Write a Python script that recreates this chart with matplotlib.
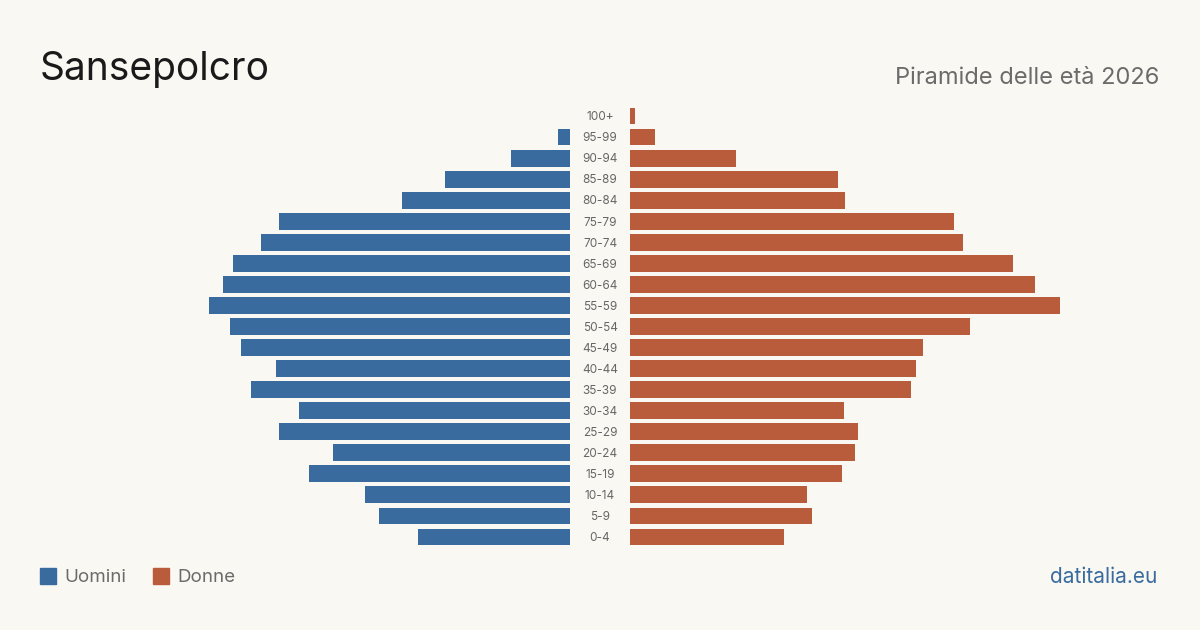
import matplotlib.pyplot as plt
from matplotlib.patches import Rectangle
from matplotlib.transforms import blended_transform_factory

ages = ["0-4", "5-9", "10-14", "15-19", "20-24", "25-29", "30-34", "35-39",
        "40-44", "45-49", "50-54", "55-59", "60-64", "65-69", "70-74",
        "75-79", "80-84", "85-89", "90-94", "95-99", "100+"]
uomini = [152, 191, 205, 261, 237, 291, 271, 319, 294, 329, 340, 361,
          347, 337, 309, 291, 168, 125, 59, 12, 0]
donne = [154, 182, 177, 212, 225, 228, 214, 281, 286, 293, 340, 430,
         405, 383, 333, 324, 215, 208, 106, 25, 5]

BG = "#f9f8f3"
BLUE = "#3a6b9e"
RED = "#b95c3b"
plt.rcParams['font.family'] = ['Inter', 'DejaVu Sans']

W, H = 1200, 630
fig = plt.figure(figsize=(12, 6.3), dpi=100, facecolor=BG)

# rows: 100+ centred at y=116px, 0-4 at y=537px
pitch = (537 - 116) / 20
top_px = 116 - pitch / 2
bot_px = 537 + pitch / 2
ax_b = (H - bot_px) / H
ax_h = (bot_px - top_px) / H

axl = fig.add_axes([40 / W, ax_b, 530 / W, ax_h])
axr = fig.add_axes([630 / W, ax_b, 530 / W, ax_h])
y = list(range(len(ages)))
axl.barh(y, uomini, height=0.8, color=BLUE)
axr.barh(y, donne, height=0.8, color=RED)
axl.set_xlim(530, 0)
axr.set_xlim(0, 530)
for ax in (axl, axr):
    ax.set_ylim(-0.5, len(ages) - 0.5)
    ax.axis("off")

tr = blended_transform_factory(fig.transFigure, axl.transData)
for i, a in enumerate(ages):
    axl.text(600 / W, i - 0.06, a, transform=tr, ha="center", va="center",
             fontsize=8.5, color="#666666")

fig.text(40 / W, 1 - 69 / H, "Sansepolcro", fontsize=28, color="#1a1a1a",
         va="center", ha="left")
fig.text(1159 / W, 1 - 78 / H, "Piramide delle età 2026", fontsize=17,
         color="#6b6b6b", va="center", ha="right")

# legend
for x0, col, lab in [(40, BLUE, "Uomini"), (153, RED, "Donne")]:
    fig.patches.append(Rectangle((x0 / W, 1 - 584 / H), 16 / W, 16 / H,
                                 transform=fig.transFigure, color=col))
    fig.text((x0 + 24) / W, 1 - 577 / H, lab, fontsize=13.5, color="#6b6b6b",
             va="center", ha="left")
fig.text(1157 / W, 1 - 577 / H, "datitalia.eu", fontsize=15, color=BLUE,
         va="center", ha="right")

fig.savefig("out.png", dpi=100, facecolor=BG)
